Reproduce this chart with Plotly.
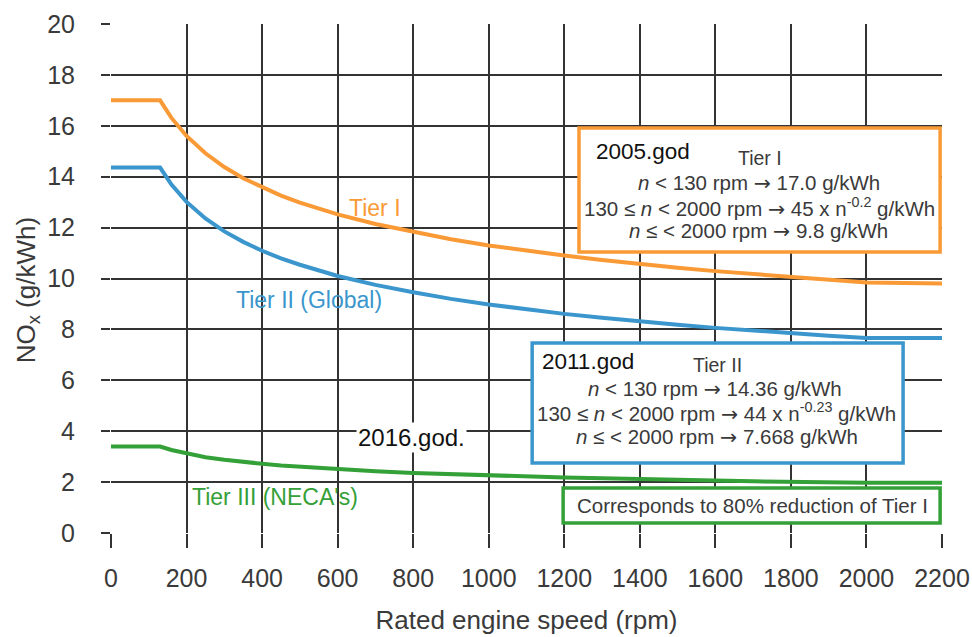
import plotly.graph_objects as go

# Rated engine speed (rpm)
speed = [0, 130, 160, 200, 250, 300, 350, 400, 450, 500, 600, 700, 800, 900,
         1000, 1100, 1200, 1300, 1400, 1500, 1600, 1700, 1800, 1900, 2000, 2200]
# NOx limits (g/kWh)
tier1 = [17.0, 17.0, 16.31, 15.60, 14.92, 14.38, 13.94, 13.58, 13.26, 12.98, 12.52,
         12.14, 11.82, 11.54, 11.30, 11.09, 10.90, 10.73, 10.57, 10.42, 10.29,
         10.17, 10.05, 9.94, 9.84, 9.80]
tier2 = [14.36, 14.36, 13.69, 13.01, 12.36, 11.85, 11.44, 11.09, 10.79, 10.54, 10.10,
         9.75, 9.46, 9.20, 8.98, 8.79, 8.61, 8.46, 8.31, 8.18, 8.06, 7.95, 7.85,
         7.75, 7.66, 7.66]
tier3 = [3.40, 3.40, 3.26, 3.12, 2.98, 2.88, 2.79, 2.72, 2.65, 2.60, 2.50, 2.43,
         2.36, 2.31, 2.26, 2.22, 2.18, 2.15, 2.11, 2.08, 2.06, 2.03, 2.01, 1.99,
         1.97, 1.97]

x_ticks = [0, 200, 400, 600, 800, 1000, 1200, 1400, 1600, 1800, 2000, 2200]
y_ticks = [0, 2, 4, 6, 8, 10, 12, 14, 16, 18, 20]

ORANGE = "#F99A36"
BLUE = "#3A96CC"
GREEN = "#34A038"
GRID = "#333333"
TXT = "#3a3a3a"
FONT = "Liberation Sans, Arial, sans-serif"
ARROW = '<span style="font-family:DejaVu Sans">→</span>'

fig = go.Figure()
for name, ys, col in [("Tier I", tier1, ORANGE), ("Tier II", tier2, BLUE),
                      ("Tier III", tier3, GREEN)]:
    fig.add_trace(go.Scatter(x=speed, y=ys, mode="lines", name=name,
                             line=dict(color=col, width=4), showlegend=False,
                             hoverinfo="skip"))

# boxes
boxes = [
    (1239, 2195, 11.04, 15.91, ORANGE),
    (1115, 2097, 2.75, 7.47, BLUE),
    (1197, 2195, 0.39, 1.77, GREEN),
]
for x0, x1, y0, y1, col in boxes:
    fig.add_shape(type="rect", xref="x", yref="y", x0=x0, x1=x1, y0=y0, y1=y1,
                  line=dict(color=col, width=3.5), fillcolor="white", layer="above")

ann = []
def A(x, y, text, size=17, color=TXT, xanchor="center", bg=None):
    d = dict(x=x, y=y, xref="x", yref="y", text=text, showarrow=False,
             font=dict(size=size, color=color, family=FONT), xanchor=xanchor,
             yanchor="middle")
    if bg:
        d["bgcolor"] = bg
    ann.append(d)

A(699, 12.77, "Tier I", 23, ORANGE)
A(524, 9.15, "Tier II (Global)", 23, BLUE)
A(434, 1.41, "Tier III (NECA's)", 23, GREEN)
A(795, 3.77, "2016.god.", 24, "#111111", bg="white")

# Tier I box
A(1278, 14.98, "2005.god", 22.5, "#111111", xanchor="left")
A(1719, 14.72, "Tier I", 19.5)
A(1715, 13.74, f"<i>n</i> &lt; 130 rpm {ARROW} 17.0 g/kWh", 20.5)
A(1717, 12.80, f"130 ≤ <i>n</i> &lt; 2000 rpm {ARROW} 45 x n<sup>-0.2</sup> g/kWh", 20.5)
A(1715, 11.85, f"<i>n</i> ≤ &lt; 2000 rpm {ARROW} 9.8 g/kWh", 20.5)

# Tier II box
A(1135, 6.75, "2011.god", 22.5, "#111111", xanchor="left")
A(1605, 6.60, "Tier II", 19.5)
A(1600, 5.65, f"<i>n</i> &lt; 130 rpm {ARROW} 14.36 g/kWh", 20.5)
A(1602, 4.73, f"130 ≤ <i>n</i> &lt; 2000 rpm {ARROW} 44 x n<sup>-0.23</sup> g/kWh", 20.5)
A(1605, 3.79, f"<i>n</i> ≤ &lt; 2000 rpm {ARROW} 7.668 g/kWh", 20.5)

# Tier III box
A(1698, 1.10, "Corresponds to 80% reduction of Tier I", 20.5)

# y-axis title as rotated annotation (sits slightly below the plot centre)
ann.append(dict(x=-0.101, y=0.477, xref="paper", yref="paper",
                text="NO<sub>x</sub> (g/kWh)", textangle=-90, showarrow=False,
                font=dict(size=26, color=TXT, family=FONT),
                xanchor="center", yanchor="middle"))

fig.update_layout(
    width=972, height=637,
    margin=dict(l=111, r=30, t=24, b=104),
    paper_bgcolor="white", plot_bgcolor="white",
    font=dict(family=FONT, color=TXT, size=25),
    annotations=ann,
    xaxis=dict(range=[0, 2200], tickvals=x_ticks, ticktext=[str(v) for v in x_ticks],
               showgrid=True, gridcolor=GRID, gridwidth=1.5, zeroline=False,
               ticks="outside", ticklen=14, tickwidth=1.5, tickcolor=GRID,
               ticklabelstandoff=9, tickfont=dict(size=25, color=TXT),
               title=dict(text="Rated engine speed (rpm)", font=dict(size=26, color=TXT),
                          standoff=19),
               showline=False, fixedrange=True, automargin=False),
    yaxis=dict(range=[0, 20], tickvals=y_ticks, ticktext=[str(v) for v in y_ticks],
               showgrid=True, gridcolor=GRID, gridwidth=1.5, zeroline=False,
               ticks="outside", ticklen=9, tickwidth=1.5, tickcolor=GRID,
               ticklabelstandoff=21, tickfont=dict(size=25, color=TXT),
               showline=False, fixedrange=True, automargin=False),
)

# remove the default page margin so the figure fills the 972x637 window exactly
fig.write_html("out.html", config={"displayModeBar": False},
               post_script="document.body.style.margin='0';document.body.style.overflow='hidden';")
